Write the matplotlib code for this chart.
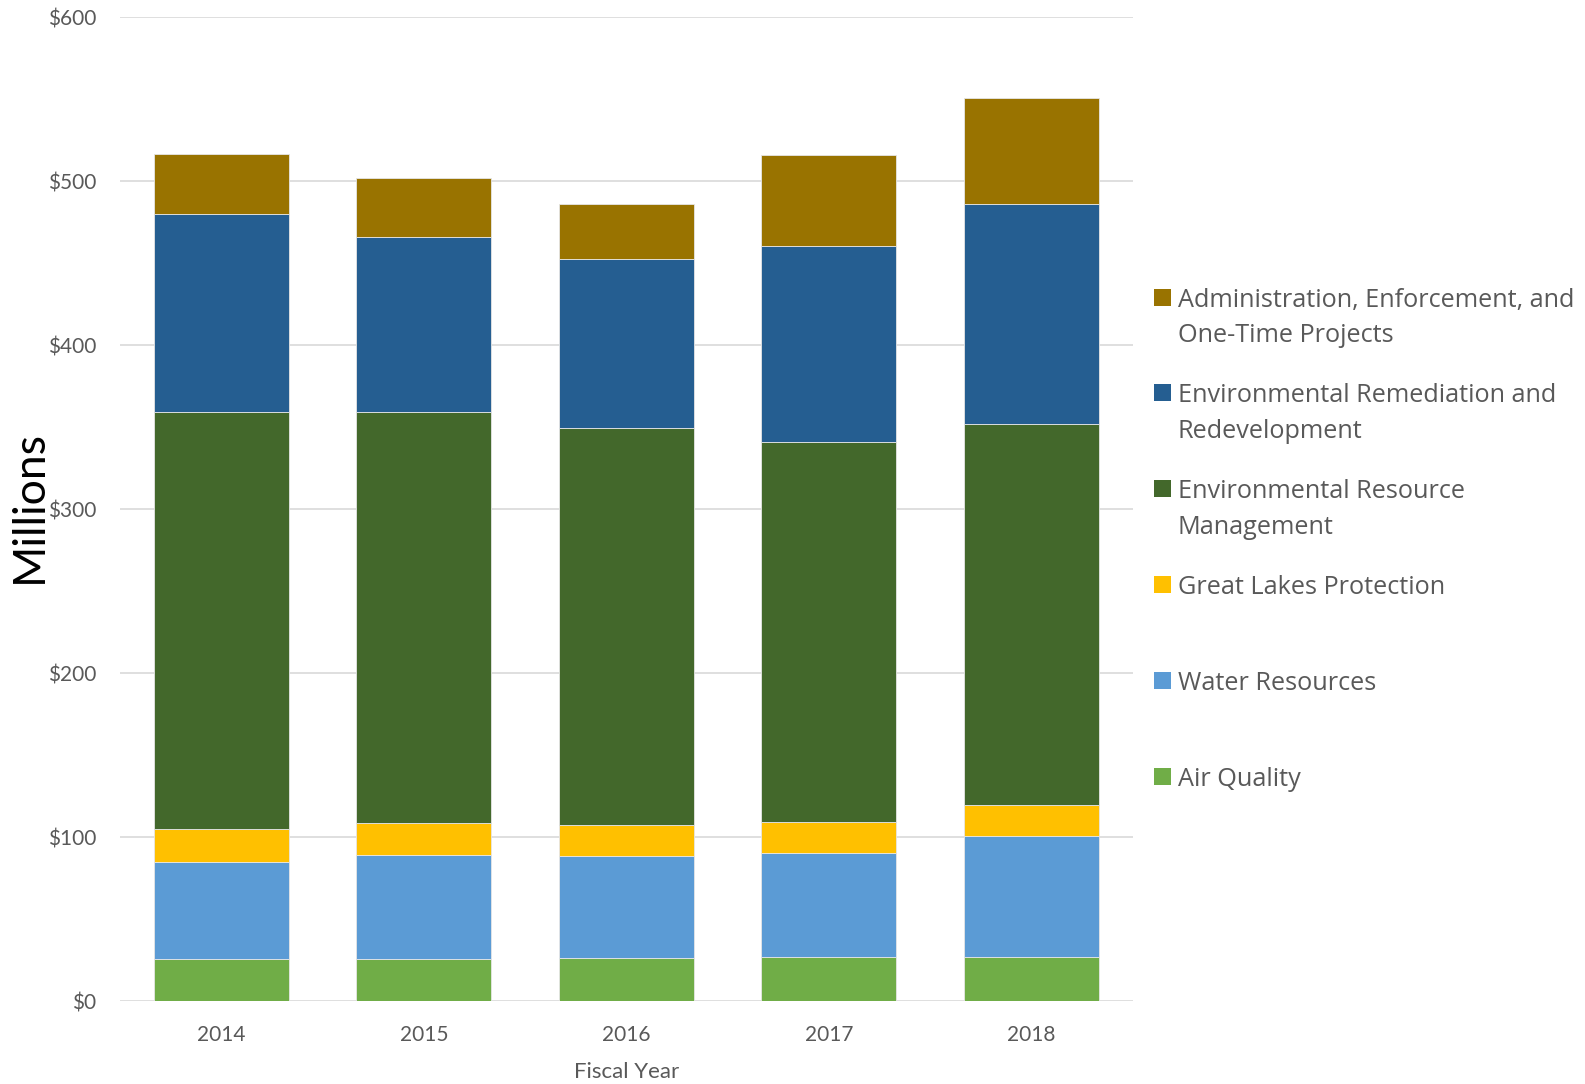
import matplotlib
matplotlib.use("Agg")
import matplotlib.pyplot as plt
import matplotlib.patches as patches

plt.rcParams["font.family"] = ["Lato", "DejaVu Sans"]

years = ["2014", "2015", "2016", "2017", "2018"]

# spending by program area, $ millions (bottom of stack first)
air_quality = [25.6, 25.6, 26.2, 26.8, 26.8]
water_resources = [59.4, 63.5, 62.3, 63.7, 74.1]
great_lakes = [19.9, 19.7, 18.7, 18.7, 18.6]
env_resource_mgmt = [254.2, 250.4, 242.6, 232.0, 232.7]
env_remediation = [120.8, 106.6, 102.7, 119.2, 133.8]
administration = [36.5, 36.3, 33.9, 55.6, 64.9]

series_names = [
    "Air Quality",
    "Water Resources",
    "Great Lakes Protection",
    "Environmental Resource\nManagement",
    "Environmental Remediation and\nRedevelopment",
    "Administration, Enforcement, and\nOne-Time Projects",
]
series_values = [air_quality, water_resources, great_lakes,
                 env_resource_mgmt, env_remediation, administration]
series_colors = ["#70AD47", "#5B9BD5", "#FFC000", "#43682B", "#255E91", "#997300"]

y_ticks = [0, 100, 200, 300, 400, 500, 600]
y_tick_labels = ["$0", "$100", "$200", "$300", "$400", "$500", "$600"]

text_gray = "#595959"
grid_gray = "#D9D9D9"

fig = plt.figure(figsize=(15.85, 10.84), dpi=100)
ax = fig.add_axes([120 / 1585, 82.7 / 1084, 1012.7 / 1585, 984 / 1084])

x = list(range(len(years)))
bottom = [0.0] * len(years)
for vals, color in zip(series_values, series_colors):
    ax.bar(x, vals, width=0.667, bottom=bottom, color=color,
           edgecolor="#E6E6E6", linewidth=0.6, zorder=3)
    bottom = [b + v for b, v in zip(bottom, vals)]

ax.set_xlim(-0.5, len(years) - 0.5)
ax.set_ylim(0, 600)
ax.set_yticks(y_ticks)
ax.set_yticklabels(y_tick_labels)
ax.set_xticks(x)
ax.set_xticklabels(years)
ax.tick_params(axis="both", length=0, labelsize=15, colors=text_gray)
ax.tick_params(axis="y", pad=17)
ax.tick_params(axis="x", pad=17)

ax.yaxis.grid(True, color=grid_gray, linewidth=1.2, zorder=0)
ax.set_axisbelow(True)
for side in ["top", "right", "left", "bottom"]:
    ax.spines[side].set_visible(False)

ax.set_xlabel("Fiscal Year", fontsize=16, color=text_gray, labelpad=12)
fig.text(29 / 1585, 1 - 507 / 1084, "Millions", rotation=90, ha="center",
         va="center", fontsize=32, color="black")

# legend, top entry first, one slot per entry
legend_top = 297
legend_step = 95.8
for i, (name, color) in enumerate(zip(series_names[::-1], series_colors[::-1])):
    yc = legend_top + i * legend_step
    fig.patches.append(patches.Rectangle(
        (1154 / 1585, 1 - (yc + 8.5) / 1084), 17 / 1585, 17 / 1084,
        transform=fig.transFigure, facecolor=color, edgecolor="none"))
    lines = name.split("\n")
    for j, line in enumerate(lines):
        fig.text(1178 / 1585, 1 - (yc + j * 36) / 1084, line, ha="left",
                 va="center_baseline", fontsize=18.2, color=text_gray,
                 family=["Open Sans", "DejaVu Sans"])

fig.savefig("out.png", dpi=100)
